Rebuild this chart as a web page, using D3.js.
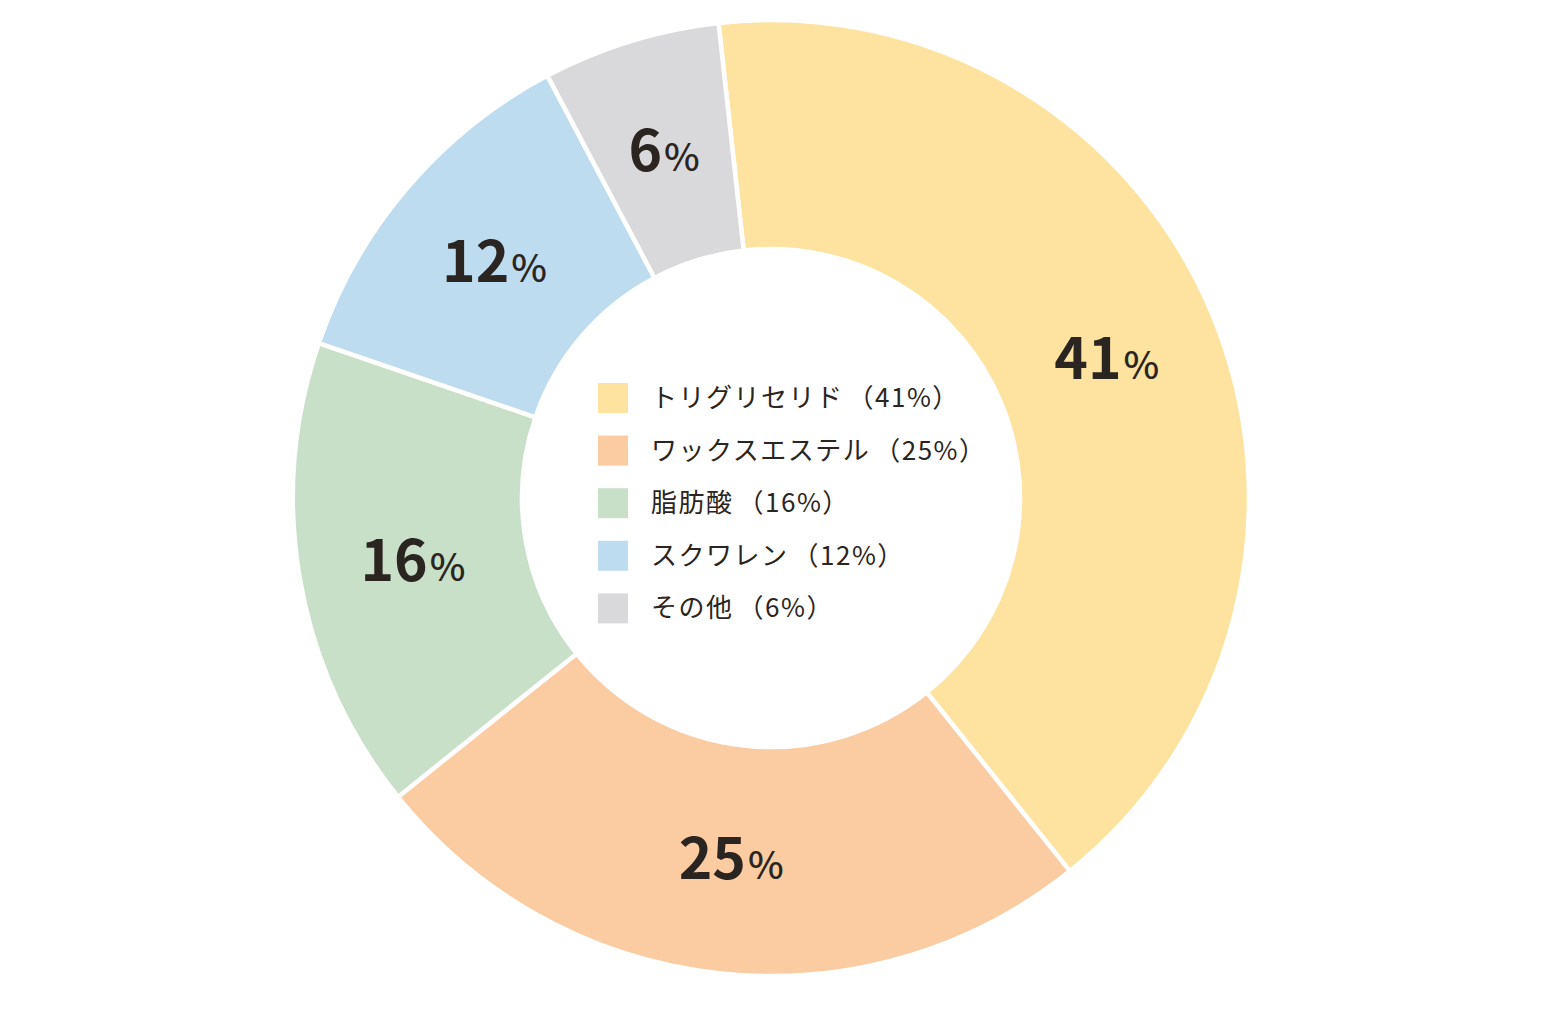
<!DOCTYPE html>
<html lang="ja">
<head>
<meta charset="utf-8">
<script src="https://cdn.jsdelivr.net/npm/d3@7"></script>
<style>
  html, body { margin: 0; padding: 0; background: #ffffff; }
  svg { display: block; }
  text { font-family: "Noto Sans CJK JP", "Noto Sans", sans-serif; }
</style>
</head>
<body>
<svg id="chart" width="1558" height="1010"></svg>
<script>
// ---- data ----
const categories = ["トリグリセリド", "ワックスエステル", "脂肪酸", "スクワレン", "その他"];
const values = [41, 25, 16, 12, 6];
const colors = ["#FDE39F", "#FBCBA1", "#C8E0C8", "#BDDCF0", "#D9D9DB"];

// ---- layout ----
const cx = 771, cy = 498;
const outerR = 478, innerR = 249;
const textColor = "#2b2522";

const svg = d3.select("#chart");
const g = svg.append("g").attr("transform", `translate(${cx},${cy})`);

const data = categories.map((c, i) => ({ name: c, value: values[i], color: colors[i] }));

const pie = d3.pie()
  .value(d => d.value)
  .sort(null)
  .startAngle(-0.11)
  .endAngle(2 * Math.PI - 0.11);

const arc = d3.arc().innerRadius(innerR).outerRadius(outerR);
const labelArc = d3.arc().innerRadius((innerR + outerR) / 2).outerRadius((innerR + outerR) / 2);

const arcs = pie(data);

g.selectAll("path.slice")
  .data(arcs)
  .enter().append("path")
  .attr("class", "slice")
  .attr("d", arc)
  .attr("fill", d => d.data.color)
  .attr("stroke", "#ffffff")
  .attr("stroke-width", 4.5)
  .attr("stroke-linejoin", "miter");

// percentage labels on the ring
const lab = g.selectAll("text.pct")
  .data(arcs)
  .enter().append("text")
  .attr("class", "pct")
  .attr("text-anchor", "middle")
  .attr("fill", textColor)
  .attr("transform", d => {
    const [x, y] = labelArc.centroid(d);
    return `translate(${x},${y + 20})`;
  });
lab.append("tspan")
  .attr("font-size", 57)
  .attr("font-weight", 700)
  .text(d => d.data.value);
lab.append("tspan")
  .attr("font-size", 38)
  .attr("font-weight", 500)
  .attr("dx", 2)
  .text("%");

// legend in the middle
const legendX = 598, legendY = 383, rowH = 52.6, sw = 30;
const lg = svg.append("g").attr("transform", `translate(${legendX},${legendY})`);
const rows = lg.selectAll("g.row")
  .data(data)
  .enter().append("g")
  .attr("class", "row")
  .attr("transform", (d, i) => `translate(0,${i * rowH})`);
rows.append("rect")
  .attr("width", sw).attr("height", sw)
  .attr("fill", d => d.color);
const lt = rows.append("text")
  .attr("x", 53)
  .attr("y", sw / 2 + 9)
  .attr("font-size", 26)
  .attr("font-weight", 400)
  .attr("letter-spacing", 1.5)
  .attr("fill", textColor);
lt.append("tspan").text(d => d.name);
lt.append("tspan").attr("dx", 4).text(d => `（${d.value}%）`);
</script>
</body>
</html>
